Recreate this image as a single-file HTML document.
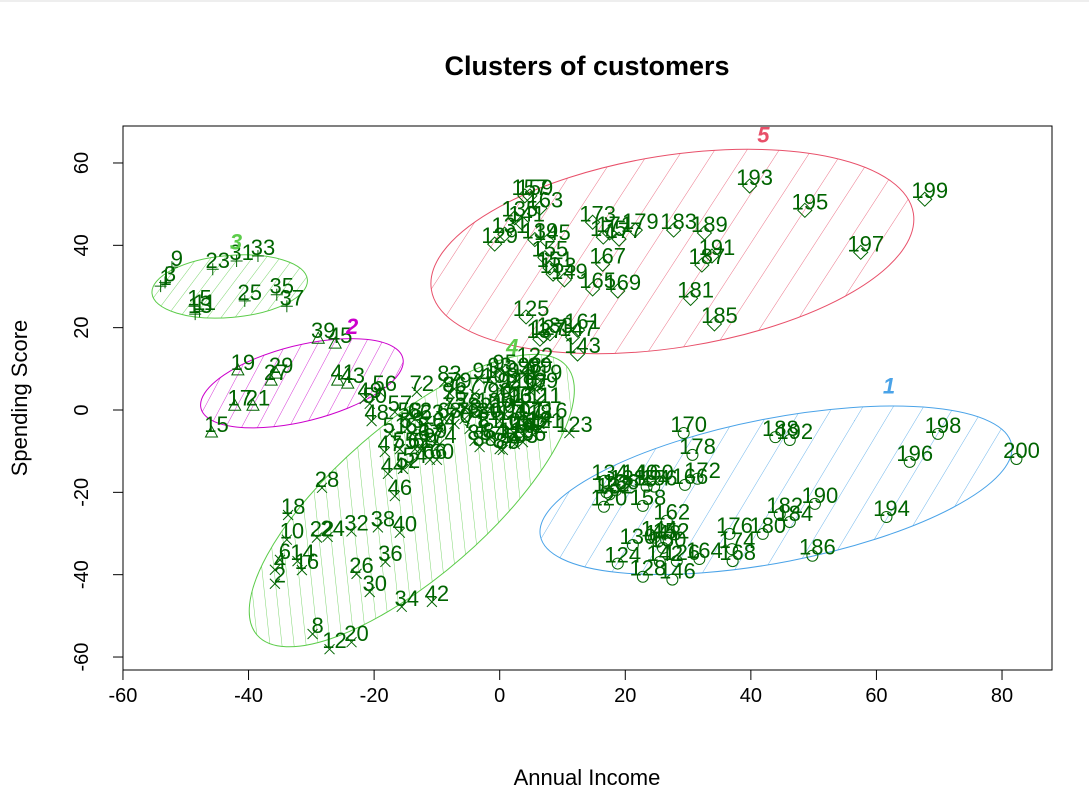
<!DOCTYPE html>
<html><head><meta charset="utf-8"><style>
body{margin:0;background:#fff;width:1089px;height:789px;overflow:hidden;font-family:"Liberation Sans",sans-serif}
</style></head><body>
<svg id="chart" width="1089" height="789" xmlns="http://www.w3.org/2000/svg" font-family="Liberation Sans, sans-serif">
<line x1="0" y1="1" x2="1089" y2="1" stroke="#ddd"/>
<text x="587" y="75" text-anchor="middle" font-size="27" font-weight="bold">Clusters of customers</text>
<text x="587" y="785" text-anchor="middle" font-size="22">Annual Income</text>
<text transform="translate(27,398) rotate(-90)" text-anchor="middle" font-size="22">Spending Score</text>
<rect x="123" y="126" width="929" height="544" fill="none" stroke="#000"/>
<g id="ell"></g><g id="axes"></g><g id="pts"></g><g id="clab"></g>
</svg>
<script>
const xTicks=[-60,-40,-20,0,20,40,60,80];
const yTicks=[-60,-40,-20,0,20,40,60];
const c1Labels=[200,198,196,194,190,184,182,186,180,174,168,164,176,162,166,172,178,170,188,192,146,128,124,142,126,130,144,148,150,152,120,122,134,138,140,154,156,158,160,132,136];
const c1X=[82.3,69.8,65.3,61.6,50.2,46.2,44.6,49.8,41.9,37.0,37.1,31.8,36.6,26.6,29.5,31.5,30.7,29.3,43.9,46.2,27.5,22.8,18.8,25.5,28.2,21.2,24.6,25.2,26.0,26.5,16.6,17.0,16.7,19.6,21.5,23.4,24.6,22.8,24.0,17.5,18.5];
const c1Y=[-11.9,-5.8,-12.6,-26.0,-22.8,-27.2,-25.3,-35.4,-30.1,-33.8,-36.7,-36.2,-30.1,-26.9,-18.2,-16.7,-10.9,-5.6,-6.6,-7.3,-41.2,-40.5,-37.3,-36.9,-36.7,-32.8,-31.0,-32.0,-33.5,-31.5,-23.5,-20.0,-17.2,-18.6,-17.2,-18.6,-18.6,-23.3,-17.2,-20.5,-19.5];
const c2Labels=[39,45,19,29,27,41,43,17,21,15];
const c2X=[-28.9,-26.2,-41.7,-35.6,-36.4,-25.8,-24.2,-42.2,-39.3,-45.9];
const c2Y=[17.2,16.0,9.5,8.7,7.0,7.0,6.3,0.9,0.9,-5.6];
const c3Labels=[1,3,9,23,31,33,25,35,37,13,15,11];
const c3X=[-54.0,-53.3,-52.2,-45.7,-41.9,-38.5,-40.6,-35.5,-33.9,-48.5,-48.6,-47.8];
const c3Y=[30.1,31.0,34.7,34.2,36.2,37.4,26.5,28.0,25.2,23.3,25.2,24.0];
const c4Labels=[28,18,10,22,24,32,38,40,6,14,16,4,2,26,36,30,34,42,8,12,20,44,46,52,54,47,48,49,50,51,56,72,83,86,104,121,123,122,106,103,89,74,69,60,66,57,58,62,63,65,68,70,71,76,78,81,84,85,87,88,90,92,94,95,96,97,98,99,100,101,102,105,107,108,109,110,111,112,113,114,115,116,117,118,119,53,55,59,61,64,67,73,75,77,79,80,82,91,93];
const c4X=[-28.3,-33.7,-33.9,-29.1,-27.4,-23.6,-19.4,-15.9,-35.0,-32.2,-31.5,-35.8,-35.8,-22.8,-18.2,-20.7,-15.6,-10.8,-29.8,-27.1,-23.6,-17.8,-16.7,-15.4,-14.3,-18.3,-20.4,-21.5,-20.7,-17.5,-19.1,-13.2,-8.8,-8.0,3.0,6.4,11.1,4.8,3.7,2.4,0.5,-9.6,-12.7,-10.0,-11.1,-16.7,-15.1,-13.5,-11.6,-13.9,-8.8,-7.2,-4.8,-8.0,-5.6,-2.4,-1.6,-4.0,0,-3.2,-0.8,0.8,2.4,0,2.4,4.8,4.0,5.6,-1.6,0.8,4.0,1.6,3.2,-0.8,5.6,2.4,6.4,4.0,1.6,4.8,1.9,7.2,0,4.8,6.4,-14.8,-15.9,-11.1,-13.5,-9.6,-11.9,-8.0,-5.6,-4.0,-7.2,-2.4,-4.0,-3.2,-0.8];
const c4Y=[-18.9,-25.5,-31.5,-31.0,-30.8,-29.5,-28.5,-29.8,-36.4,-36.7,-38.9,-38.8,-42.2,-39.8,-36.9,-44.2,-47.8,-46.6,-54.4,-58.1,-56.4,-15.5,-20.9,-14.3,-13.1,-10.2,-2.7,2.7,1.5,-5.8,4.4,4.4,6.8,4.1,-5.1,-4.6,-5.6,11.2,-7.8,-8.3,-9.7,-8.3,-9.5,-12.1,-12.1,-0.5,-2.2,-2.2,-2.7,-5.8,-2.2,-3.4,-4.6,1.9,0.2,-4.6,-7.0,-7.5,-9.5,-9.0,2.7,5.1,7.5,9.5,1.5,4.6,8.7,8.7,0.2,-1.0,-5.8,-4.6,-2.2,6.3,5.1,5.1,1.5,1.5,1.5,-4.1,-7.0,-2.2,-2.7,-2.7,7.0,-4.6,-9.5,-7.0,-9.5,-4.6,-7.5,-1.0,-2.2,3.9,5.1,-2.2,-1.0,7.5,8.7];
const c5Labels=[199,195,197,193,189,191,187,183,181,185,179,173,175,177,171,167,165,169,163,157,159,161,147,143,133,137,125,145,155,151,153,149,139,135,141,131,127,129];
const c5X=[67.7,48.6,57.5,39.8,32.6,33.8,32.2,27.7,30.4,34.2,21.6,14.8,16.5,19.0,17.5,16.4,14.8,18.8,6.4,4.0,4.8,12.4,11.6,12.4,8.0,6.4,4.2,7.6,7.2,8.0,8.5,10.3,5.6,2.4,3.5,0.8,7.0,-0.8];
const c5Y=[51.2,48.5,38.3,54.4,43.0,37.4,35.2,43.7,27.1,20.9,43.7,45.6,42.0,41.5,43.0,35.4,29.4,28.9,49.0,52.0,52.0,19.4,17.7,13.6,18.5,17.2,22.6,41.0,37.0,34.5,33.0,31.6,41.4,46.7,45.5,42.7,18.0,40.3];
const clusterNames=["1","2","3","4","5"];
const clusterCX=[44.0,-31.5,-43.0,-14.0,27.5];
const clusterCY=[-19.5,6.5,30.0,-22.0,38.5];

const X=v=>499.7+v*6.279, Y=v=>410-v*4.117;
const NS="http://www.w3.org/2000/svg";
function mk(tag,attrs,parent){const e=document.createElementNS(NS,tag);for(const k in attrs)e.setAttribute(k,attrs[k]);parent.appendChild(e);return e;}
const axes=document.getElementById('axes');
mk('line',{x1:X(-60),y1:670,x2:X(80),y2:670,stroke:'#000'},axes);
xTicks.forEach(t=>{mk('line',{x1:X(t),y1:670,x2:X(t),y2:680,stroke:'#000'},axes);
 const tx=mk('text',{x:X(t),y:702,'text-anchor':'middle','font-size':20},axes);tx.textContent=t;
 
 });
mk('line',{x1:123,y1:Y(-60),x2:123,y2:Y(60),stroke:'#000'},axes);
yTicks.forEach(t=>{mk('line',{x1:113,y1:Y(t),x2:123,y2:Y(t),stroke:'#000'},axes);
 const tx=mk('text',{transform:`translate(88,${Y(t)}) rotate(-90)`,'text-anchor':'middle','font-size':20},axes);tx.textContent=t;
 
 });

const svg=document.getElementById('chart');
const defs=mk('defs',{},svg);
const colors=['#4aa3e8','#cc00cc','#5ccc4a','#5ccc4a','#e8506a'];
const ell=[[240,72,-11,26,42],[104,38,-14,14,42],[78,31,-5,11,42],[205,76,-41,12,35],[244,96,-9,27,42]];
const eg=document.getElementById('ell');
ell.forEach((e,i)=>{
 const p=mk('pattern',{id:'h'+i,width:e[3],height:e[3],patternUnits:'userSpaceOnUse',patternTransform:`rotate(${e[4]})`},defs);
 mk('line',{x1:0,y1:0,x2:0,y2:e[3],stroke:colors[i],'stroke-width':0.8},p);
 const cx=X(clusterCX[i]),cy=Y(clusterCY[i]);
 const el=mk('ellipse',{cx:cx,cy:cy,rx:e[0],ry:e[1],transform:`rotate(${e[2]} ${cx} ${cy})`,fill:`url(#h${i})`,stroke:colors[i],'stroke-width':1},eg);
 
 
});
const clPos=[[62,4],[-23.5,18.5],[-42,39],[2,13.5],[42,65]];
const cl=document.getElementById('clab');
clPos.forEach((p,i)=>{const t=mk('text',{x:X(p[0]),y:Y(p[1]),'text-anchor':'middle','font-size':22,'font-weight':'bold','font-style':'italic',fill:colors[i]},cl);t.textContent=clusterNames[i];
 
 });

const pg=document.getElementById('pts');
const G='#006400';
function marker(type,x,y){
 const s=6;let d;
 if(type===0){return mk('circle',{cx:x,cy:y,r:5.5,fill:'none',stroke:G},pg);}
 if(type===1)d=`M${x} ${y-7}L${x+6} ${y+4}L${x-6} ${y+4}Z`;
 if(type===2)d=`M${x-s} ${y}H${x+s}M${x} ${y-s}V${y+s}`;
 if(type===3)d=`M${x-5} ${y-5}L${x+5} ${y+5}M${x-5} ${y+5}L${x+5} ${y-5}`;
 if(type===4)d=`M${x} ${y-7}L${x+7} ${y}L${x} ${y+7}L${x-7} ${y}Z`;
 return mk('path',{d:d,fill:'none',stroke:G},pg);
}
const sets=[[c1Labels,c1X,c1Y],[c2Labels,c2X,c2Y],[c3Labels,c3X,c3Y],[c4Labels,c4X,c4Y],[c5Labels,c5X,c5Y]];
sets.forEach((s,ci)=>{s[0].forEach((lab,j)=>{
 const px=X(s[1][j]),py=Y(s[2][j]);
 const m=marker(ci,px,py);
 
 
 const t=mk('text',{x:px+5,y:py-1,'text-anchor':'middle','font-size':22,fill:G},pg);t.textContent=lab;
 
 
});});
</script>
</body></html>
